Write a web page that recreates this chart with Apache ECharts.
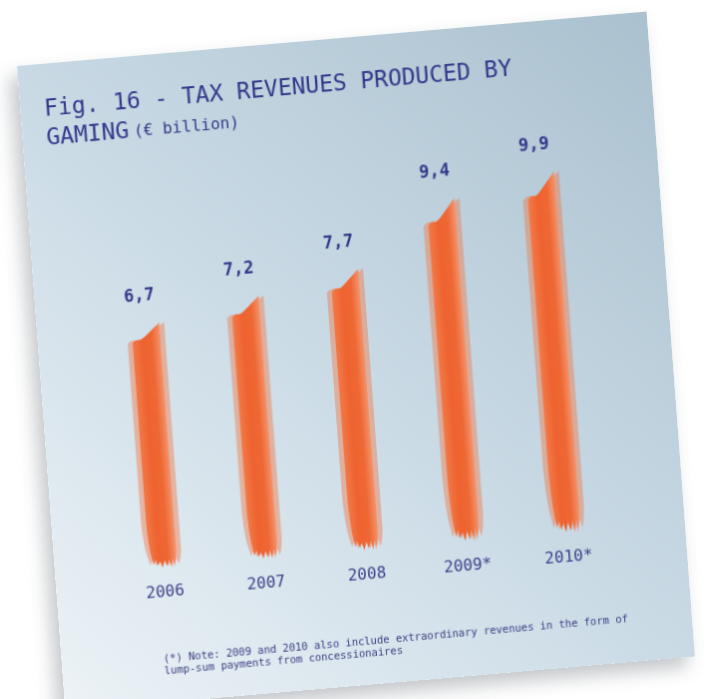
<!DOCTYPE html>
<html>
<head>
<meta charset="utf-8">
<script src="https://cdn.jsdelivr.net/npm/echarts@6/dist/echarts.min.js"></script>
<style>
  html, body { margin: 0; padding: 0; background: #fff; width: 708px; height: 699px; overflow: hidden; }
  /* the card is a sheet lying a bit askew on the page */
  #card {
    position: absolute; left: 0; top: 0;
    width: 634px; height: 645px;
    transform-origin: 0 0;
    transform: matrix(0.993, -0.086, 0.075, 1.0, 17, 66);
    box-shadow: -8px 10px 18px rgba(60, 70, 80, 0.3);
  }
</style>
</head>
<body>
<div id="card"></div>
<script>
// 数据
var years = ['2006', '2007', '2008', '2009*', '2010*'];
var taxRevenues = [6.7, 7.2, 7.7, 9.4, 9.9];
var titleLines = ['Fig. 16 - TAX REVENUES PRODUCED BY', 'GAMING', '(€ billion)'];
var noteLines = [
  '(*) Note: 2009 and 2010 also include extraordinary revenues in the form of',
  'lump-sum payments from concessionaires'
];

// brush stroke shape: slanted top, frayed bottom
var brush = 'path://M0,75 C5,68 12,62 22,64 C30,66 34,62 40,58 L100,0 L100,930 C98,960 96,975 92,990 L86,965 L80,1000 L72,968 L64,995 L56,970 L48,998 L40,972 L32,990 L24,965 L16,985 L10,950 C5,920 2,880 0,820 Z';

var navy = '#33378a';
var chart = echarts.init(document.getElementById('card'), null, { renderer: 'canvas' });

var option = {
  backgroundColor: new echarts.graphic.LinearGradient(1, 0, 0, 1, [
    { offset: 0, color: '#abc1cf' },
    { offset: 0.5, color: '#c9dae5' },
    { offset: 1, color: '#edf3f7' }
  ]),
  title: [
    {
      left: 19,
      top: 27,
      text: '{a|' + titleLines[0] + '}\n{a|' + titleLines[1] + '} {b|' + titleLines[2] + '}',
      textStyle: {
        fontWeight: 'normal',
        rich: {
          a: { fontFamily: 'DejaVu Sans Mono', fontSize: 23, fontWeight: 'normal', color: navy, lineHeight: 29 },
          b: { fontFamily: 'DejaVu Sans Mono', fontSize: 16, fontWeight: 'normal', color: navy, lineHeight: 29 }
        }
      }
    },
    {
      left: 97,
      top: 591,
      text: noteLines.join('\n'),
      textStyle: { fontFamily: 'DejaVu Sans Mono', fontSize: 10.5, fontWeight: 'normal', color: '#3a3d82', lineHeight: 12 }
    }
  ],
  grid: { left: 58, right: 68, top: 147, bottom: 134 },
  xAxis: {
    type: 'category',
    data: years,
    axisLine: { show: false },
    axisTick: { show: false },
    axisLabel: { margin: 17, fontFamily: 'DejaVu Sans Mono', fontSize: 16, color: '#3c3f88' }
  },
  yAxis: {
    type: 'value',
    min: 0,
    max: 10,
    show: false,
    splitLine: { show: false }
  },
  series: [
    {
      // soft outer halo of the brush
      type: 'pictorialBar',
      data: taxRevenues,
      barWidth: 40,
      barGap: '-100%',
      symbol: brush,
      symbolSize: [38, '100%'],
      itemStyle: { color: 'rgba(241, 120, 72, 0.45)' },
      silent: true
    },
    {
      type: 'pictorialBar',
      data: taxRevenues,
      barWidth: 40,
      barGap: '-100%',
      symbol: brush,
      symbolSize: [28, '100%'],
      itemStyle: {
        color: new echarts.graphic.LinearGradient(0, 0, 1, 0, [
          { offset: 0, color: '#f27a48' },
          { offset: 0.35, color: '#ee6330' },
          { offset: 0.7, color: '#ef6834' },
          { offset: 1, color: '#f4936b' }
        ])
      },
      label: {
        show: true,
        position: 'top',
        distance: 19,
        offset: [-4, 0],
        fontFamily: 'DejaVu Sans Mono',
        fontSize: 17,
        fontWeight: 'bold',
        color: navy,
        formatter: function (p) {
          return String(p.value).replace('.', ',');
        }
      }
    }
  ]
};

chart.setOption(option);
</script>
</body>
</html>
